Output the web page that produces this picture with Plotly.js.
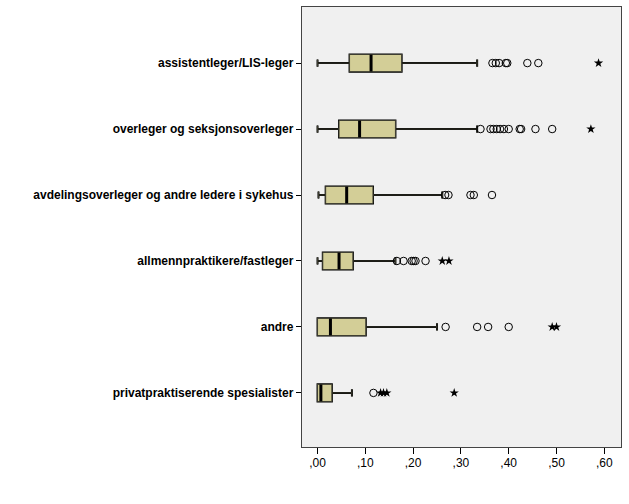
<!DOCTYPE html>
<html>
<head>
<meta charset="utf-8">
<script src="https://cdn.plot.ly/plotly-3.0.1.min.js"></script>
<style>html,body{margin:0;padding:0;background:#fff;}#chart{width:629px;height:504px;}</style>
</head>
<body>
<div id="chart"></div>
<script>
// Categories (top to bottom)
const categories = [
  "assistentleger/LIS-leger",
  "overleger og seksjonsoverleger",
  "avdelingsoverleger og andre ledere i sykehus",
  "allmennpraktikere/fastleger",
  "andre",
  "privatpraktiserende spesialister"
];
// Box statistics
const lowerWhisker = [0.000, 0.000, 0.002, 0.000, 0.000, 0.000];
const q1Values     = [0.067, 0.045, 0.017, 0.011, 0.000, 0.000];
const medianValues = [0.112, 0.088, 0.061, 0.045, 0.027, 0.007];
const q3Values     = [0.176, 0.163, 0.116, 0.074, 0.101, 0.030];
const upperWhisker = [0.334, 0.334, 0.261, 0.163, 0.250, 0.072];
// Outliers (circles) per category
const circles0 = [0.366, 0.373, 0.380, 0.394, 0.397, 0.439, 0.462];
const circles1 = [0.341, 0.362, 0.368, 0.375, 0.382, 0.390, 0.400, 0.423, 0.426, 0.456, 0.491];
const circles2 = [0.267, 0.274, 0.320, 0.327, 0.365];
const circles3 = [0.166, 0.180, 0.197, 0.201, 0.205, 0.226];
const circles4 = [0.268, 0.334, 0.357, 0.400];
const circles5 = [0.117];
// Extreme values (stars) per category
const stars0 = [0.588];
const stars1 = [0.572];
const stars2 = [];
const stars3 = [0.261, 0.275];
const stars4 = [0.491, 0.500];
const stars5 = [0.132, 0.138, 0.145, 0.286];
// X tick labels
const xTickVals = [0, 0.1, 0.2, 0.3, 0.4, 0.5, 0.6];
const xTickText = [",00", ",10", ",20", ",30", ",40", ",50", ",60"];

const circleSets = [circles0, circles1, circles2, circles3, circles4, circles5];
const starSets = [stars0, stars1, stars2, stars3, stars4, stars5];

function flatten(sets) {
  const xs = [], ys = [];
  sets.forEach((s, i) => s.forEach(v => { xs.push(v); ys.push(categories[i]); }));
  return {xs, ys};
}
const circ = flatten(circleSets);
const star = flatten(starSets);

const boxStats = {
  type: "box", orientation: "h",
  y: categories,
  q1: q1Values, median: medianValues, q3: q3Values,
  lowerfence: lowerWhisker, upperfence: upperWhisker,
  boxpoints: false, width: 0.26, whiskerwidth: 0.42,
  hoverinfo: "skip", showlegend: false
};

const traces = [
  Object.assign({}, boxStats, {fillcolor: "rgb(211,206,151)", line: {color: "#000", width: 2}}),
  Object.assign({}, boxStats, {fillcolor: "rgb(211,206,151)", line: {color: "#3d3d30", width: 1}}),
  {
    type: "scatter", mode: "markers",
    x: medianValues, y: categories,
    marker: {symbol: "line-ns", size: 12, line: {color: "#000", width: 3}},
    hoverinfo: "skip", showlegend: false
  },
  {
    type: "scatter", mode: "markers",
    x: circ.xs, y: circ.ys,
    marker: {symbol: "circle-open", size: 7.5, color: "#000", line: {color: "#000", width: 1}},
    hoverinfo: "skip", showlegend: false
  },
  {
    type: "scatter", mode: "markers",
    x: star.xs, y: star.ys,
    marker: {symbol: "star", size: 7, color: "#000", line: {width: 0}},
    hoverinfo: "skip", showlegend: false
  }
];

const layout = {
  width: 629, height: 504,
  margin: {l: 302, r: 8, t: 7, b: 57},
  paper_bgcolor: "#ffffff",
  plot_bgcolor: "#f0f0f0",
  boxmode: "overlay",
  font: {family: "Liberation Sans, Arial, sans-serif", color: "#000", size: 12},
  showlegend: false,
  xaxis: {
    range: [-0.0325, 0.635],
    tickvals: xTickVals, ticktext: xTickText,
    ticks: "outside", ticklen: 6, tickwidth: 1, tickcolor: "#000",
    ticklabelstandoff: -2,
    showgrid: false, zeroline: false,
    showline: true, mirror: true, linecolor: "#444", linewidth: 1.2,
    tickfont: {size: 12}
  },
  yaxis: {
    type: "category",
    categoryorder: "array", categoryarray: categories,
    range: [5.82, -0.85],
    ticks: "outside", ticklen: 5, tickwidth: 1, tickcolor: "#000",
    showgrid: false, zeroline: false,
    showline: true, mirror: true, linecolor: "#444", linewidth: 1.2,
    tickfont: {size: 12, weight: "bold"}
  }
};

Plotly.newPlot("chart", traces, layout, {staticPlot: true, displayModeBar: false});
</script>
</body>
</html>
